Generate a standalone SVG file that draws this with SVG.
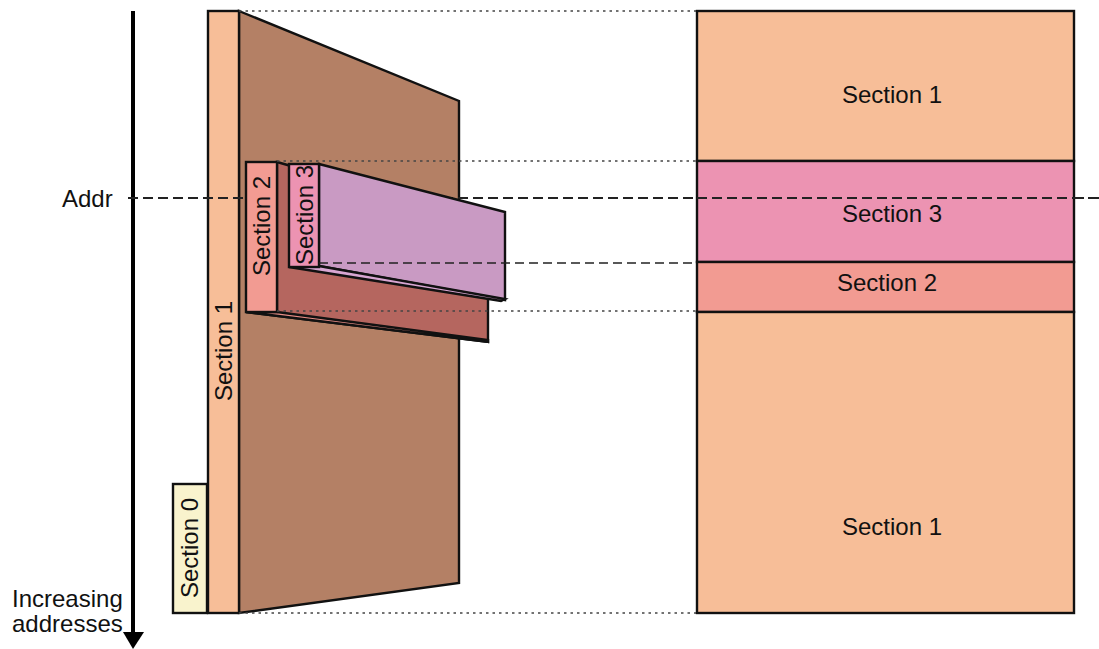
<svg xmlns="http://www.w3.org/2000/svg" width="1099" height="649" viewBox="0 0 1099 649">
<style>
.s{stroke:#111;stroke-width:2.4;stroke-linejoin:miter}
.t{font-family:"Liberation Sans",Arial,sans-serif;font-size:24px;fill:#111}
.dot{stroke:#444;stroke-width:1.3;stroke-dasharray:2.5 4;fill:none}
.dash{stroke:#222;stroke-width:1.5;stroke-dasharray:9 5;fill:none}
.c1{fill:#F7BE98}.c2{fill:#F29B92}.c3{fill:#EC93B2}.c0{fill:#F9F3CD}
</style>
<rect width="1099" height="649" fill="#fff"/>

<g id="axis">
<line x1="133" y1="11" x2="133" y2="633" stroke="#000" stroke-width="4"/>
<path d="M123,632 L144,632 L133,649 Z" fill="#000"/>
<text class="t" x="12" y="607">Increasing</text>
<text class="t" x="12" y="632">addresses</text>
<text class="t" x="62" y="207">Addr</text>
</g>

<g id="section0">
<rect class="s c0" x="173" y="484" width="34" height="129"/>
<text class="t" transform="translate(198,548) rotate(-90)" text-anchor="middle">Section 0</text>
</g>

<g id="section1-block">
<polygon class="s" fill="#B48065" points="239,11 459,101 459,583 239,613"/>
<rect class="s c1" x="208" y="11" width="31" height="602"/>
<text class="t" transform="translate(232,351) rotate(-90)" text-anchor="middle">Section 1</text>
</g>

<g id="addr-line">
<line x1="128" y1="198" x2="1099" y2="198" stroke="#222" stroke-width="2" stroke-dasharray="10 5"/>
</g>

<g id="section2-block">
<polygon class="s" fill="#B5665F" points="277,162 488,222 488,342 246,312 277,312"/>
<polygon class="s" fill="#E58C85" points="246,312 277,312 488,340 488,342"/>
<rect class="s c2" x="246" y="162" width="31" height="150"/>
<text class="t" transform="translate(270,226) rotate(-90)" text-anchor="middle">Section 2</text>
</g>

<g id="section3-block">
<polygon class="s" fill="#C99AC3" points="319,164 505,212 505,300 319,266"/>
<polygon class="s" fill="#D8A6D2" points="289,267 319,266 505,299 501,301"/>
<rect class="s c3" x="289" y="164" width="30" height="103"/>
<text class="t" transform="translate(313,215) rotate(-90)" text-anchor="middle">Section 3</text>
</g>

<g id="connectors">
<line class="dot" x1="239" y1="11" x2="697" y2="11"/>
<line class="dot" x1="277" y1="161" x2="697" y2="161"/>
<line class="dot" x1="277" y1="311" x2="697" y2="311"/>
<line class="dot" x1="239" y1="613" x2="697" y2="613"/>
<line class="dash" x1="319" y1="263" x2="697" y2="263"/>
</g>

<g id="right-map">
<rect class="s c1" x="697" y="11" width="377" height="150"/>
<rect class="s c3" x="697" y="161" width="377" height="101"/>
<rect class="s c2" x="697" y="262" width="377" height="50"/>
<rect class="s c1" x="697" y="312" width="377" height="301"/>
<text class="t" x="892" y="103" text-anchor="middle">Section 1</text>
<text class="t" x="892" y="222" text-anchor="middle">Section 3</text>
<text class="t" x="887" y="291" text-anchor="middle">Section 2</text>
<text class="t" x="892" y="535" text-anchor="middle">Section 1</text>
<line x1="1074" y1="198" x2="1099" y2="198" stroke="#222" stroke-width="2" stroke-dasharray="10 5"/>
<line x1="697" y1="198" x2="1074" y2="198" stroke="#222" stroke-width="2" stroke-dasharray="10 5"/>
</g>
</svg>
